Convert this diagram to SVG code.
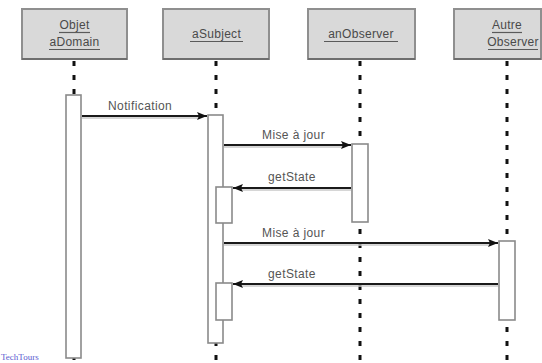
<svg xmlns="http://www.w3.org/2000/svg" width="542" height="363" viewBox="0 0 542 363">
  <defs>
    <marker id="head" viewBox="0 0 10 8" refX="10" refY="4" markerWidth="10" markerHeight="8" markerUnits="userSpaceOnUse" orient="auto">
      <path d="M0,0 L10,4 L0,8 L2,4 Z" fill="#111"/>
    </marker>
    <style>
      .obj rect.box { fill: #d9d9d9; stroke: #8f8f8f; stroke-width: 2; }
      .obj line.shade { stroke: #6e6e6e; stroke-width: 2; }
      .name { font-family: "Liberation Sans", Arial, sans-serif; font-size: 12px; fill: #4a4a4a; letter-spacing: 0.3px; text-anchor: middle; }
      .ul { stroke: #5a5a5a; stroke-width: 1.2; }
      .life { stroke: #111; stroke-width: 3; stroke-dasharray: 5 9; fill: none; }
      .act { fill: #fff; stroke: #8a8a8a; stroke-width: 1.6; }
      .msg { stroke: #1a1a1a; stroke-width: 2; fill: none; }
      .msgshade { stroke: #c8c8c8; stroke-width: 1.5; fill: none; }
      .lbl { font-family: "Liberation Sans", Arial, sans-serif; font-size: 12px; fill: #555; letter-spacing: 0.4px; }
    </style>
  </defs>
  <rect width="542" height="363" fill="#fff"/>

  <!-- lifelines -->
  <g id="lifelines">
    <line class="life" x1="74" y1="61" x2="74" y2="363"/>
    <line class="life" x1="216" y1="61" x2="216" y2="363"/>
    <line class="life" x1="360" y1="61" x2="360" y2="363"/>
    <line class="life" x1="507" y1="61" x2="507" y2="363"/>
  </g>

  <!-- object heads -->
  <g id="objet-adomain" class="obj">
    <rect class="box" x="22" y="9" width="105" height="50"/>
    <line class="shade" x1="22" y1="59" x2="127" y2="59"/>
    <text class="name" x="74.5" y="29">Objet</text>
    <line class="ul" x1="59" y1="32.5" x2="90" y2="32.5"/>
    <text class="name" x="74.5" y="46">aDomain</text>
    <line class="ul" x1="49" y1="49.5" x2="100" y2="49.5"/>
  </g>
  <g id="asubject" class="obj">
    <rect class="box" x="163" y="9" width="106" height="50"/>
    <line class="shade" x1="163" y1="59" x2="269" y2="59"/>
    <text class="name" x="216.5" y="38">aSubject</text>
    <line class="ul" x1="190" y1="41.5" x2="243" y2="41.5"/>
  </g>
  <g id="anobserver" class="obj">
    <rect class="box" x="308" y="9" width="107" height="50"/>
    <line class="shade" x1="308" y1="59" x2="415" y2="59"/>
    <text class="name" x="361" y="38">anObserver</text>
    <line class="ul" x1="324" y1="41.5" x2="398" y2="41.5"/>
  </g>
  <g id="autre-observer" class="obj">
    <rect class="box" x="454" y="9" width="87" height="50"/>
    <line class="shade" x1="454" y1="59" x2="541" y2="59"/>
    <text class="name" x="507" y="29">Autre</text>
    <line class="ul" x1="492" y1="32.5" x2="522" y2="32.5"/>
    <text class="name" x="513" y="46">Observer</text>
    <line class="ul" x1="488" y1="49.5" x2="538" y2="49.5"/>
  </g>

  <!-- activations -->
  <g id="activations">
    <rect class="act" x="66" y="95" width="15" height="263"/>
    <rect class="act" x="208" y="115" width="15" height="228"/>
    <rect class="act" x="216" y="187" width="16" height="36"/>
    <rect class="act" x="216" y="283" width="16" height="37"/>
    <rect class="act" x="352" y="144" width="16" height="78"/>
    <rect class="act" x="499" y="241" width="16" height="79"/>
  </g>

  <!-- messages -->
  <g id="connectors">
    <line class="msgshade" x1="82" y1="118" x2="200" y2="118"/>
    <line class="msg" x1="82" y1="116" x2="207" y2="116" marker-end="url(#head)"/>
    <line class="msgshade" x1="224" y1="147" x2="344" y2="147"/>
    <line class="msg" x1="224" y1="145" x2="351" y2="145" marker-end="url(#head)"/>
    <line class="msgshade" x1="240" y1="190" x2="351" y2="190"/>
    <line class="msg" x1="351" y1="188" x2="233" y2="188" marker-end="url(#head)"/>
    <line class="msgshade" x1="224" y1="245" x2="490" y2="245"/>
    <line class="msg" x1="224" y1="243" x2="498" y2="243" marker-end="url(#head)"/>
    <line class="msgshade" x1="240" y1="286" x2="498" y2="286"/>
    <line class="msg" x1="498" y1="284" x2="233" y2="284" marker-end="url(#head)" stroke="#333"/>
  </g>

  <g id="labels">
    <text class="lbl" x="108" y="110">Notification</text>
    <text class="lbl" x="262" y="139">Mise à jour</text>
    <text class="lbl" x="268" y="181">getState</text>
    <text class="lbl" x="262" y="237">Mise à jour</text>
    <text class="lbl" x="268" y="278">getState</text>
  </g>

  <text x="1" y="360" font-family="'Liberation Serif', 'Times New Roman', serif" font-size="9" fill="#5b5bd0">TechTours</text>
</svg>
